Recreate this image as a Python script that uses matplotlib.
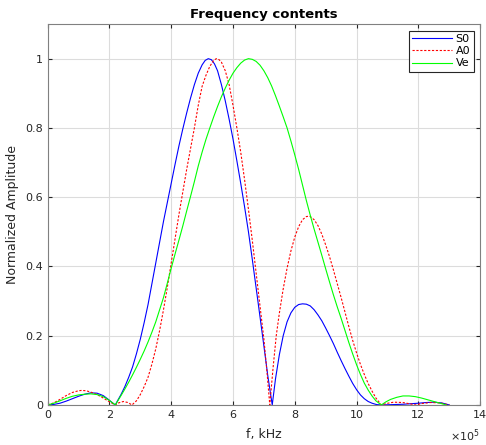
import numpy as np
import matplotlib.pyplot as plt

# values (x in units of 1e5)
s0_f = [0, 0.2, 0.4, 0.6, 0.8, 1.0, 1.2, 1.4, 1.6, 1.8, 1.95, 2.1, 2.19,
        2.25, 2.375, 2.5, 2.625, 2.75, 2.875, 3.0, 3.125, 3.25, 3.375, 3.5,
        3.625, 3.75, 3.875, 4.0, 4.125, 4.25, 4.375, 4.5, 4.625, 4.75, 4.875,
        5.0, 5.1, 5.2, 5.3, 5.4, 5.5, 5.625, 5.75, 5.875, 6.0, 6.125, 6.25,
        6.375, 6.5, 6.625, 6.75, 6.875, 7.0, 7.125, 7.27,
        7.375, 7.5, 7.625, 7.75, 7.875, 8.0, 8.125, 8.25, 8.375, 8.5, 8.625,
        8.75, 8.875, 9.0, 9.125, 9.25, 9.375, 9.5, 9.625, 9.75, 9.875, 10.0,
        10.125, 10.25, 10.375, 10.5, 10.65, 10.8,
        11.0, 11.5, 12.0, 12.25, 12.5, 12.75, 13.0]
s0_amp = [0, 0.0015, 0.005, 0.011, 0.018, 0.025, 0.031, 0.035, 0.034, 0.027, 0.017, 0.006, 0,
          0.01, 0.03, 0.053, 0.08, 0.11, 0.148, 0.19, 0.238, 0.29, 0.35, 0.41,
          0.47, 0.53, 0.585, 0.64, 0.695, 0.748, 0.797, 0.843, 0.886, 0.925, 0.958,
          0.982, 0.995, 1.0, 0.997, 0.985, 0.965, 0.925, 0.878, 0.825, 0.768, 0.705, 0.64,
          0.572, 0.5, 0.42, 0.337, 0.254, 0.17, 0.085, 0,
          0.075, 0.145, 0.2, 0.24, 0.266, 0.282, 0.29, 0.292, 0.291, 0.286, 0.275,
          0.26, 0.243, 0.222, 0.2, 0.177, 0.152, 0.128, 0.105, 0.083, 0.062, 0.044,
          0.029, 0.018, 0.01, 0.005, 0.001, 0,
          0.0005, 0.002, 0.005, 0.007, 0.008, 0.006, 0]

a0_f = [0, 0.2, 0.4, 0.6, 0.8, 1.0, 1.1, 1.25, 1.4, 1.6, 1.8, 2.0, 2.19,
        2.3, 2.45, 2.6, 2.73,
        2.875, 3.0, 3.125, 3.25, 3.375, 3.5, 3.625, 3.75, 3.875, 4.0, 4.125,
        4.25, 4.375, 4.5, 4.625, 4.75, 4.875, 5.0, 5.125, 5.25, 5.375, 5.46,
        5.55, 5.625, 5.75, 5.875, 6.0, 6.125, 6.25, 6.375, 6.5, 6.625, 6.75,
        6.875, 7.0, 7.1, 7.19,
        7.3, 7.4, 7.5, 7.625, 7.75, 7.875, 8.0, 8.125, 8.25, 8.375, 8.45, 8.5,
        8.625, 8.75, 8.875, 9.0, 9.125, 9.25, 9.375, 9.5, 9.625, 9.75, 9.875,
        10.0, 10.125, 10.25, 10.375, 10.5, 10.625, 10.8,
        10.95, 11.2, 11.5, 11.8, 11.9, 12.1, 12.4, 12.7, 13.0]
a0_amp = [0, 0.006, 0.016, 0.027, 0.036, 0.041, 0.042, 0.041, 0.037, 0.03, 0.02, 0.009, 0,
          0.006, 0.01, 0.007, 0,
          0.012, 0.03, 0.053, 0.08, 0.118, 0.162, 0.215, 0.275, 0.34, 0.41, 0.48,
          0.55, 0.615, 0.68, 0.74, 0.80, 0.865, 0.92, 0.952, 0.978, 0.995, 1.0,
          0.997, 0.99, 0.965, 0.925, 0.865, 0.80, 0.73, 0.65, 0.565, 0.475, 0.38,
          0.285, 0.19, 0.095, 0,
          0.11, 0.2, 0.265, 0.335, 0.395, 0.445, 0.485, 0.515, 0.535, 0.544, 0.545, 0.544,
          0.535, 0.518, 0.493, 0.462, 0.428, 0.39, 0.35, 0.31, 0.268, 0.226, 0.186,
          0.15, 0.117, 0.088, 0.062, 0.04, 0.02, 0,
          0.004, 0.008, 0.007, 0.002, 0, 0.004, 0.007, 0.006, 0]

ve_f = [0, 0.2, 0.4, 0.6, 0.8, 1.0, 1.2, 1.4, 1.6, 1.8, 2.0, 2.19,
        2.375, 2.5, 2.625, 2.75, 2.875, 3.0, 3.125, 3.25, 3.375, 3.5, 3.625,
        3.75, 3.875, 4.0, 4.125, 4.25, 4.375, 4.5, 4.625, 4.75, 4.875, 5.0,
        5.125, 5.25, 5.375, 5.5, 5.625, 5.75, 5.875, 6.0, 6.125, 6.25, 6.375,
        6.5, 6.625, 6.75, 6.875, 7.0, 7.125, 7.25, 7.375, 7.5, 7.625, 7.75,
        7.875, 8.0, 8.125, 8.25, 8.375, 8.5, 8.625, 8.75, 8.875, 9.0, 9.125,
        9.25, 9.375, 9.5, 9.625, 9.75, 9.875, 10.0, 10.125, 10.25, 10.375,
        10.5, 10.625, 10.8,
        10.95, 11.1, 11.3, 11.5, 11.7, 11.9, 12.1, 12.3, 12.5, 12.7, 12.9]
ve_amp = [0, 0.005, 0.012, 0.019, 0.025, 0.029, 0.031, 0.032, 0.03, 0.024, 0.013, 0,
          0.027, 0.046, 0.066, 0.087, 0.109, 0.132, 0.156, 0.182, 0.21, 0.24, 0.275,
          0.31, 0.352, 0.395, 0.436, 0.476, 0.517, 0.56, 0.602, 0.645, 0.69, 0.73,
          0.767, 0.8, 0.832, 0.862, 0.89, 0.915, 0.938, 0.958, 0.974, 0.987, 0.996,
          1.0, 0.998, 0.992, 0.981, 0.965, 0.945, 0.921, 0.893, 0.863, 0.832, 0.8,
          0.762, 0.722, 0.68, 0.635, 0.59, 0.548, 0.508, 0.47, 0.432, 0.393, 0.355,
          0.318, 0.283, 0.25, 0.215, 0.18, 0.147, 0.116, 0.088, 0.063, 0.043,
          0.026, 0.012, 0,
          0.009, 0.016, 0.022, 0.026, 0.026, 0.024, 0.02, 0.015, 0.01, 0.005, 0]

fig = plt.figure(figsize=(4.86, 4.45), dpi=100)
ax = fig.add_axes([0.098, 0.09, 0.89, 0.856])

ax.plot(s0_f, s0_amp, color="#0000ff", lw=0.8, label="S0")
ax.plot(a0_f, a0_amp, color="#ff0000", lw=0.8, ls=(0, (2, 1.5)), label="A0")
ax.plot(ve_f, ve_amp, color="#00ff00", lw=0.8, label="Ve")

ax.set_xlim(0, 14)
ax.set_ylim(0, 1.1)
ax.set_xticks(np.arange(0, 15, 2))
ax.set_yticks([0, 0.2, 0.4, 0.6, 0.8, 1.0])
ax.set_yticklabels(["0", "0.2", "0.4", "0.6", "0.8", "1"])
ax.grid(True, color="#dcdcdc", lw=0.8)
ax.set_axisbelow(True)
ax.tick_params(direction="in", length=3, top=True, right=True,
               labelsize=8, colors="#262626")
for sp in ax.spines.values():
    sp.set_color("#808080")
    sp.set_linewidth(0.8)

ax.set_title("Frequency contents", fontsize=9.5, fontweight="bold", pad=4)
ax.set_xlabel("f, kHz", fontsize=9, color="#262626", labelpad=6)
ax.set_ylabel("Normalized Amplitude", fontsize=9, color="#262626", labelpad=4)
ax.text(1.0, -0.06, r"$\times10^5$", transform=ax.transAxes, ha="right",
        va="top", fontsize=8, color="#262626")

leg = ax.legend(loc="upper right", fontsize=8, fancybox=False, framealpha=1,
                edgecolor="#262626", borderaxespad=0.6, handlelength=3.6,
                handletextpad=0.3, borderpad=0.3, labelspacing=0.2)
leg.get_frame().set_linewidth(0.8)

fig.savefig("out.png", dpi=100)
